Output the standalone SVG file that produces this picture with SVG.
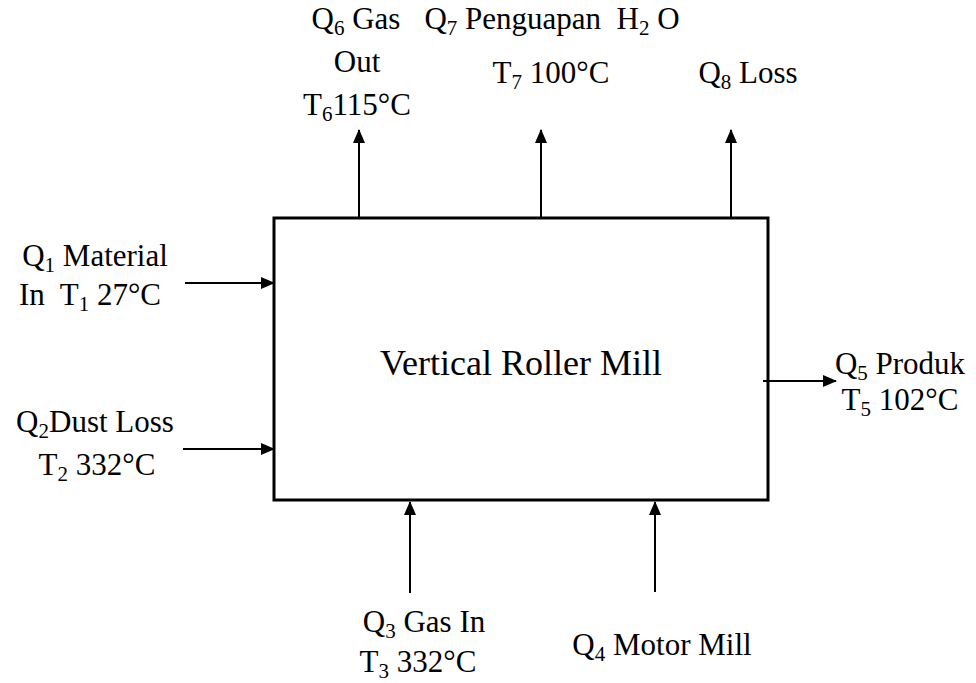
<svg xmlns="http://www.w3.org/2000/svg" width="976" height="683" viewBox="0 0 976 683">
<defs>
<marker id="ah" markerWidth="14" markerHeight="12" refX="13" refY="6" orient="auto" markerUnits="userSpaceOnUse">
<path d="M0,0 L14,6 L0,12 Z" fill="#000"/>
</marker>
<style>
text{font-family:"Liberation Serif","Times New Roman",serif;font-size:31px;fill:#000;text-anchor:middle;white-space:pre}
.s{font-size:21px}
.c{font-size:36px}
.ln{stroke:#000;stroke-width:2;fill:none;marker-end:url(#ah)}
</style>
</defs>
<rect width="976" height="683" fill="#fff"/>
<g id="mill">
<rect x="274" y="218" width="494" height="282" fill="#fff" stroke="#000" stroke-width="3"/>
<text class="c" x="521" y="375">Vertical Roller Mill</text>
</g>
<g id="connectors">
<line class="ln" x1="359" y1="218" x2="359" y2="130"/>
<line class="ln" x1="541" y1="218" x2="541" y2="130"/>
<line class="ln" x1="731" y1="218" x2="731" y2="130"/>
<line class="ln" x1="185" y1="283" x2="274" y2="283"/>
<line class="ln" x1="183" y1="449" x2="274" y2="449"/>
<line class="ln" x1="763" y1="381" x2="836" y2="381"/>
<line class="ln" x1="410" y1="593" x2="410" y2="502"/>
<line class="ln" x1="655" y1="592" x2="655" y2="502"/>
</g>
<g id="q1">
<text x="95" y="266">Q<tspan class="s" dy="6">1</tspan><tspan dy="-6"> Material</tspan></text>
<text x="90" y="305">In  T<tspan class="s" dy="6">1</tspan><tspan dy="-6"> 27°C</tspan></text>
</g>
<g id="q2">
<text x="95" y="432">Q<tspan class="s" dy="6">2</tspan><tspan dy="-6">Dust Loss</tspan></text>
<text x="97" y="475">T<tspan class="s" dy="6">2</tspan><tspan dy="-6"> 332°C</tspan></text>
</g>
<g id="q3">
<text x="424" y="632">Q<tspan class="s" dy="6">3</tspan><tspan dy="-6"> Gas In</tspan></text>
<text x="418" y="672">T<tspan class="s" dy="6">3</tspan><tspan dy="-6"> 332°C</tspan></text>
</g>
<g id="q4">
<text x="662" y="655">Q<tspan class="s" dy="6">4</tspan><tspan dy="-6"> Motor Mill</tspan></text>
</g>
<g id="q5">
<text x="900" y="374">Q<tspan class="s" dy="6">5</tspan><tspan dy="-6"> Produk</tspan></text>
<text x="900" y="410">T<tspan class="s" dy="6">5</tspan><tspan dy="-6"> 102°C</tspan></text>
</g>
<g id="q6">
<text x="356" y="29">Q<tspan class="s" dy="6">6</tspan><tspan dy="-6"> Gas</tspan></text>
<text x="357" y="72">Out</text>
<text x="357" y="115">T<tspan class="s" dy="6">6</tspan><tspan dy="-6">115°C</tspan></text>
</g>
<g id="q7">
<text x="552" y="29">Q<tspan class="s" dy="6">7</tspan><tspan dy="-6"> Penguapan  H</tspan><tspan class="s" dy="6">2</tspan><tspan dy="-6"> O</tspan></text>
<text x="551" y="83">T<tspan class="s" dy="6">7</tspan><tspan dy="-6"> 100°C</tspan></text>
</g>
<g id="q8">
<text x="748" y="83">Q<tspan class="s" dy="6">8</tspan><tspan dy="-6"> Loss</tspan></text>
</g>
</svg>
